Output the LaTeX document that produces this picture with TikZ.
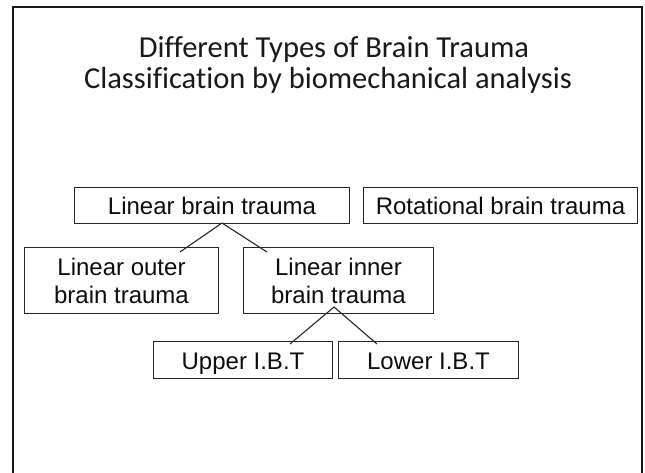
\documentclass[tikz,border=0pt]{standalone}
\usepackage{fontspec}
\setmainfont{Liberation Sans}
\newfontfamily\titlefont[Ligatures={NoCommon}]{Carlito}
\begin{document}
\begin{tikzpicture}[x=1pt,y=-1pt,
  tbox/.style={draw=black!85, line width=1pt, inner sep=0pt, anchor=north west,
    font=\fontsize{24}{28}\selectfont, align=center, text=black!95},
  onel/.style={text height=22pt, text depth=4pt},
  conn/.style={draw=black!85, line width=1.1pt},
  ttl/.style={font=\titlefont\fontsize{30.5}{34}\selectfont, anchor=base, text=black!90}]
\useasboundingbox (0,0) rectangle (645,472);
\fill[white] (0,0) rectangle (645,472);
% frame
\draw[line width=2.4pt, black!90] (13,473) -- (13,7) -- (642,7) -- (642,473);
% title
\node[ttl] (t1) at (334,57) {Different Types of Brain Trauma};
\node[ttl] (t2) at (328,88) {Classification by biomechanical analysis};
% boxes
\node[tbox, onel, minimum width=275pt, minimum height=36pt] (lin) at (74,187) {Linear brain trauma};
\node[tbox, onel, minimum width=274pt, minimum height=36pt] (rot) at (363,187) {Rotational brain trauma};
\node[tbox, minimum width=194pt, minimum height=66pt] (out) at (24,247) {Linear outer\\brain trauma};
\node[tbox, minimum width=190pt, minimum height=66pt] (inn) at (243,247) {Linear inner\\brain trauma};
\node[tbox, onel, minimum width=179pt, minimum height=37pt] (up) at (153,341) {Upper I.B.T};
\node[tbox, onel, minimum width=180pt, minimum height=37pt] (low) at (338,341) {Lower I.B.T};
% connector points
\coordinate (a1) at (222,223);
\coordinate (e1) at (180,252);
\coordinate (e2) at (267,252);
\coordinate (a2) at (334,307);
\coordinate (e3) at (290,344);
\coordinate (e4) at (377,344);
\draw[conn] (e1) -- (a1) -- (e2);
\draw[conn] (e3) -- (a2) -- (e4);
\end{tikzpicture}
\end{document}
